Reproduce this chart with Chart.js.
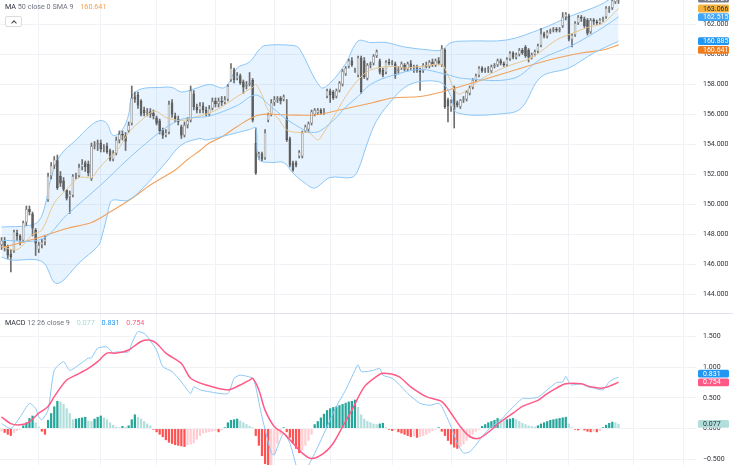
<!DOCTYPE html>
<html>
<head>
<meta charset="utf-8">
<script src="https://cdn.jsdelivr.net/npm/chart.js@4.4.1/dist/chart.umd.min.js"></script>
<style>
  html, body { margin: 0; padding: 0; background: #fff; }
  #wrap { position: relative; width: 733px; height: 465px; overflow: hidden; font-family: Roboto, 'Noto Sans', sans-serif; }
  #priceChart { position: absolute; left: 0; top: 0; }
  #sep { position: absolute; left: 0; top: 313px; width: 733px; height: 1px; background: #e0e3eb; }
  #macdChart { position: absolute; left: 0; top: 314px; }
  .lg { position: absolute; left: 5px; font-size: 7.2px; line-height: 9px; color: #6f7380; white-space: nowrap; }
  .lg .nm { color: #2a2e39; }
  .lg .v { margin-left: 5px; }
  .btn { position: absolute; left: 5px; top: 16px; width: 17px; height: 11px; border: 1px solid #d9dce3; border-radius: 2px; background: #fff; box-sizing: border-box; }
  .btn i { position: absolute; left: 6px; top: 4px; width: 3px; height: 3px; border-left: 1px solid #444; border-top: 1px solid #444; transform: rotate(45deg); }
</style>
</head>
<body>
<div id="wrap">
  <canvas id="priceChart" width="733" height="313"></canvas>
  <div id="sep"></div>
  <canvas id="macdChart" width="733" height="151"></canvas>
  <div class="lg" style="top:2px"><span class="nm">MA</span> 50 close 0 SMA 9 <span class="v" id="maVal" style="color:#f5a04c"></span></div>
  <div class="btn"><i></i></div>
  <div class="lg" style="top:318px"><span class="nm">MACD</span> 12 26 close 9 <span class="v" id="histVal" style="color:#a8dcd6"></span> <span class="v" id="macdVal" style="color:#2196f3"></span> <span class="v" id="sigVal" style="color:#ff5a87"></span></div>
</div>
<script>
/* ---- Data ---- */
const candleOpen = [
  147.3,147.6,147.2,146.7,146.9,148.1,147.9,147.6,148.8,149.7,
  149.4,148.3,147.0,147.3,147.5,150.3,151.9,152.6,152.95,151.9,
  151.6,150.97,150.5,150.6,151.9,151.9,152.5,152.8,152.7,151.7,
  153.9,154.0,154.1,153.7,153.9,153.6,153.0,153.4,154.3,154.7,
  154.6,154.9,155.4,157.2,157.3,156.9,156.3,156.1,156.2,156.1,
  155.8,155.6,155.0,154.6,154.8,156.8,155.9,155.7,155.2,154.6,
  155.3,155.6,157.4,156.5,156.3,156.6,156.3,156.0,156.4,156.9,
  156.7,156.9,156.8,157.0,158.3,159.0,158.4,158.6,158.2,157.9,
  158.0,158.3,154.1,153.2,153.4,153.1,155.6,156.0,156.8,157.0,
  157.1,157.0,155.8,154.4,152.8,152.8,153.2,153.2,154.9,155.0,
  155.4,156.0,156.1,156.3,156.1,157.2,157.6,157.5,157.2,157.6,
  158.0,158.7,159.2,159.6,158.9,158.6,159.8,159.6,158.4,159.3,
  159.4,159.9,159.6,158.97,158.8,159.5,159.4,159.4,158.9,159.1,
  159.3,159.0,159.4,159.1,159.2,158.9,158.9,159.3,159.2,159.5,
  159.3,159.6,159.3,160.3,156.97,156.5,157.85,156.8,156.5,156.97,
  157.0,157.4,157.8,158.3,158.6,159.1,158.9,159.0,158.9,159.2,
  159.3,159.6,159.4,159.3,159.7,160.1,159.8,160.0,160.3,160.5,
  160.3,159.8,160.0,160.2,160.6,161.4,161.2,161.5,161.6,161.7,
  161.6,161.9,162.5,162.6,161.0,161.3,162.1,162.5,162.4,162.3,
  161.5,162.3,162.2,162.1,162.3,162.5,163.0,163.1,163.5,163.6
];
const candleHigh = [
  147.8,147.8,147.3,147.0,148.3,148.3,148.0,148.9,149.9,149.9,
  149.5,148.4,147.5,147.7,147.9,152.1,152.8,153.2,153.3,152.2,
  151.8,151.0,150.9,152.0,152.1,152.7,153.0,152.9,152.9,154.1,
  154.2,154.3,154.3,154.0,154.1,153.7,153.6,154.5,154.9,154.9,
  154.8,155.5,157.9,157.5,157.5,157.0,156.5,156.4,156.4,156.3,
  155.9,155.7,155.1,155.0,156.9,157.0,156.1,155.9,155.3,155.5,
  155.8,157.9,157.6,156.7,156.8,156.8,156.5,156.6,157.1,157.1,
  157.1,157.2,157.2,158.0,159.4,159.1,158.8,158.7,158.3,158.2,
  158.8,158.4,155.1,153.5,153.5,155.0,156.1,157.0,157.2,157.2,
  157.2,157.3,157.0,154.5,152.9,152.9,153.6,154.9,155.3,155.5,
  156.3,156.4,156.4,156.4,156.4,157.7,157.7,157.6,157.7,158.2,
  159.0,159.2,159.7,159.8,159.1,159.9,159.9,159.8,159.4,159.5,
  160.0,160.3,159.7,159.1,159.6,159.7,159.6,159.5,159.2,159.5,
  159.4,159.5,159.6,159.3,159.3,159.1,159.4,159.5,159.6,159.7,
  159.7,159.8,160.6,160.4,157.1,157.0,157.9,156.9,157.0,157.2,
  157.6,157.9,158.4,158.7,159.2,159.2,159.1,159.2,159.3,159.4,
  159.7,159.7,159.5,159.8,160.2,160.2,160.1,160.4,160.4,160.6,
  160.4,160.1,160.3,160.7,161.75,161.5,161.6,161.7,161.8,161.8,
  161.8,162.8,162.8,162.7,161.4,162.2,162.6,162.6,162.5,162.4,
  162.4,162.4,162.3,162.4,162.5,163.2,163.2,163.7,163.9,163.9
];
const candleLow = [
  147.0,146.9,146.4,145.5,146.8,147.6,147.3,147.5,148.6,149.3,
  147.9,146.6,146.8,147.1,147.3,150.2,151.7,152.4,151.0,151.2,
  150.9,150.3,149.4,150.5,151.7,151.8,152.3,152.2,151.9,151.6,
  153.7,153.6,153.5,153.5,153.4,152.9,152.9,153.3,154.1,154.3,
  153.6,154.8,155.3,156.8,156.4,155.9,155.9,155.9,155.8,155.7,
  155.3,154.7,154.4,154.5,154.7,155.8,155.5,155.3,154.4,154.5,
  155.1,155.5,156.3,156.1,156.1,156.1,155.9,155.9,156.3,156.5,
  156.5,156.6,156.7,156.9,158.2,158.1,158.3,158.0,157.4,157.7,
  157.9,155.5,152.0,153.0,152.9,153.0,155.5,155.9,156.6,156.8,
  156.7,156.9,154.2,152.5,152.2,152.5,153.1,153.1,154.8,154.8,
  155.3,155.9,156.0,156.0,156.0,157.1,156.8,157.0,157.1,157.5,
  157.9,158.6,159.1,159.2,158.8,158.5,157.4,158.4,158.3,159.1,
  159.3,159.8,158.7,158.5,158.7,159.3,159.3,158.4,158.7,159.0,
  158.9,158.9,159.0,158.8,158.8,157.6,158.8,159.1,159.1,159.2,
  159.2,159.3,159.2,156.4,155.5,156.2,155.1,156.5,156.4,156.8,
  156.9,157.3,157.7,158.2,158.5,158.8,158.8,158.8,158.8,159.1,
  159.2,159.3,159.2,159.2,159.6,159.7,159.7,159.9,160.0,159.8,
  159.5,159.7,159.9,160.1,160.5,161.1,161.1,161.4,161.5,161.5,
  161.5,161.8,162.3,160.9,160.5,161.2,162.0,162.2,161.8,161.3,
  161.4,162.0,162.0,162.0,162.2,162.4,162.8,163.0,163.4,163.4
];
const candleClose = [
  147.6,147.2,146.6,146.5,148.2,147.9,147.6,148.8,149.7,149.5,
  148.4,147.4,147.3,147.5,147.7,151.9,152.6,153.0,151.1,151.4,
  151.0,150.4,150.7,151.9,152.0,152.5,152.7,152.5,152.1,153.9,
  154.0,154.1,153.7,153.8,153.5,153.0,153.4,154.3,154.7,154.6,
  154.2,155.3,157.1,157.0,156.6,156.0,156.1,156.2,156.0,155.9,
  155.4,154.9,154.6,154.8,156.7,156.0,155.7,155.5,154.6,155.3,
  155.6,157.6,156.5,156.3,156.6,156.3,156.0,156.4,156.9,156.7,
  156.9,156.8,157.0,157.9,159.1,158.3,158.6,158.1,157.8,158.0,
  158.1,155.6,152.1,153.4,153.0,154.8,156.0,156.8,157.0,157.1,
  156.9,157.2,154.3,152.6,152.3,152.6,153.5,154.8,155.2,155.4,
  156.2,156.3,156.3,156.1,156.2,157.6,157.3,157.1,157.6,158.1,
  158.9,159.1,159.6,159.3,159.0,159.8,157.5,158.5,159.3,159.4,
  159.9,160.2,158.8,158.6,159.5,159.4,159.5,158.6,159.0,159.4,
  159.0,159.4,159.1,159.2,158.9,158.8,159.3,159.2,159.5,159.3,
  159.6,159.4,160.4,156.5,156.55,156.8,156.3,156.6,156.97,157.0,
  157.5,157.8,158.3,158.6,159.1,158.9,159.0,159.1,159.2,159.3,
  159.6,159.4,159.3,159.7,160.1,159.8,160.0,160.3,160.1,159.9,
  159.8,160.0,160.2,160.6,161.4,161.2,161.5,161.6,161.7,161.6,
  161.7,162.5,162.7,161.0,161.3,162.1,162.5,162.4,161.9,161.4,
  162.3,162.2,162.1,162.3,162.4,163.1,163.1,163.6,163.7,163.721
];

// indicator lines: [candle index, value]
const bbUpper = [[0,148.5],[9,148.6],[12,148.9],[14,149.9],[16,151.8],[19,153.3],[24,154.3],[29,155.3],[32,155.6],[34,155.4],[36,154.6],[39,155.0],[41,156.0],[42,157.2],[45,157.7],[51,157.8],[55,157.8],[58,157.5],[62,157.7],[67,158.0],[72,157.8],[76,159.1],[80,159.5],[83,160.3],[85,160.6],[94,160.6],[96,160.4],[103,157.8],[106,158.1],[111,159.4],[115,160.9],[119,160.8],[124,160.8],[130,160.5],[138,160.3],[142,160.3],[145,160.8],[151,160.9],[163,160.97],[174,161.7],[184,162.6],[193,163.3],[199,164.1]];
const bbLower = [[0,146.5],[3,146.3],[13,146.2],[17,144.8],[19,144.8],[22,145.4],[25,146.1],[31,147.2],[32,147.6],[34,149.2],[35,150.1],[36,150.3],[41,150.3],[47,151.4],[53,152.8],[58,153.97],[64,154.4],[66,154.3],[80,155.0],[82,155.1],[83,153.0],[87,152.8],[91,152.8],[94,152.1],[98,151.4],[101,151.1],[106,151.8],[113,151.8],[115,152.3],[118,154.1],[121,155.6],[126,156.97],[130,157.8],[135,158.2],[142,158.1],[145,157.2],[147,156.1],[164,156.1],[168,156.5],[174,158.5],[183,159.1],[191,160.1],[199,160.885]];
const bbMid = [[0,147.6],[13,147.7],[21,149.3],[32,151.3],[45,153.8],[57,155.6],[67,155.9],[76,156.6],[82,157.3],[87,156.5],[94,155.4],[101,154.8],[107,155.6],[111,156.5],[115,157.2],[119,158.0],[126,158.6],[135,159.0],[143,158.7],[149,158.4],[165,158.4],[174,159.7],[184,160.6],[194,161.8],[199,162.515]];
const fastMa = [[0,147.2],[5,147.0],[10,148.0],[13,148.3],[17,150.1],[21,151.0],[25,151.8],[29,151.8],[31,152.3],[34,153.0],[38,153.8],[41,154.8],[45,155.6],[48,156.1],[50,156.2],[53,155.8],[58,155.6],[62,155.8],[67,156.1],[71,156.5],[76,157.2],[81,157.8],[82,158.0],[84,157.3],[86,156.3],[89,155.8],[92,154.97],[96,154.8],[99,154.8],[102,154.3],[103,154.5],[107,155.8],[111,157.2],[115,158.3],[119,158.97],[126,159.2],[130,159.1],[135,159.2],[142,159.3],[144,158.6],[147,157.4],[150,157.6],[155,158.4],[163,159.2],[171,159.8],[179,160.97],[184,161.4],[189,161.8],[194,162.1],[199,163.066]];
const ma50 = [[0,147.1],[12,147.8],[21,148.4],[29,148.8],[35,149.5],[42,150.4],[48,151.3],[56,152.3],[60,153.0],[64,153.6],[67,154.1],[71,154.5],[76,155.2],[83,155.97],[92,155.97],[101,155.97],[109,156.3],[120,156.8],[126,157.1],[135,157.2],[142,157.5],[147,157.8],[155,158.3],[163,158.8],[176,159.6],[187,160.1],[194,160.3],[199,160.641]];

const macdLine = [[0,0.08],[3,0.0],[6,0.19],[9,0.41],[11,0.33],[12,0.19],[13,0.14],[15,0.30],[17,0.95],[20,1.09],[22,0.95],[25,1.04],[28,1.15],[29,1.15],[31,1.31],[34,1.33],[36,1.23],[37,1.25],[41,1.25],[42,1.39],[44,1.58],[46,1.55],[47,1.50],[50,1.28],[52,1.01],[55,0.93],[58,0.76],[61,0.57],[62,0.68],[64,0.63],[67,0.60],[73,0.57],[75,0.82],[77,0.87],[81,0.82],[82,0.68],[84,0.19],[87,-0.40],[88,-0.43],[89,-0.30],[91,-0.08],[93,-0.24],[95,-0.60],[96,-0.75],[99,-0.60],[102,-0.30],[105,0.03],[108,0.36],[111,0.63],[114,0.95],[115,1.04],[116,0.93],[118,0.93],[120,0.95],[122,0.98],[123,0.87],[126,0.82],[129,0.68],[131,0.57],[135,0.41],[138,0.38],[141,0.41],[142,0.36],[145,0.03],[147,-0.24],[149,-0.40],[151,-0.38],[153,-0.27],[155,-0.13],[158,0.03],[161,0.14],[164,0.30],[168,0.49],[170,0.49],[173,0.51],[176,0.63],[179,0.75],[181,0.76],[182,0.85],[183,0.76],[184,0.71],[187,0.73],[189,0.68],[191,0.66],[194,0.63],[196,0.76],[198,0.82],[199,0.831]];
const signalLine = [[0,0.19],[3,0.08],[6,0.06],[9,0.11],[12,0.25],[15,0.36],[17,0.52],[21,0.79],[24,0.87],[28,0.98],[31,1.09],[34,1.23],[37,1.23],[41,1.28],[45,1.42],[48,1.44],[50,1.39],[53,1.23],[58,1.06],[61,0.82],[66,0.71],[73,0.63],[77,0.71],[80,0.79],[81,0.82],[83,0.63],[85,0.30],[88,0.03],[91,-0.08],[94,-0.24],[97,-0.40],[100,-0.49],[104,-0.40],[107,-0.24],[110,0.03],[113,0.30],[117,0.68],[121,0.85],[123,0.90],[128,0.85],[132,0.68],[137,0.52],[142,0.44],[145,0.25],[148,0.03],[151,-0.13],[154,-0.16],[158,-0.02],[161,0.11],[165,0.25],[168,0.36],[173,0.46],[176,0.57],[179,0.66],[182,0.73],[187,0.73],[190,0.68],[194,0.66],[197,0.71],[199,0.754]];
const macdHist = [
  -0.05,-0.07,-0.10,-0.12,-0.07,-0.04,-0.02,0.05,0.10,0.17,
  0.21,0.10,0.03,-0.05,-0.10,0.14,0.25,0.36,0.45,0.44,
  0.40,0.33,0.25,0.15,0.16,0.17,0.18,0.19,0.13,0.12,
  0.16,0.19,0.21,0.18,0.15,0.10,0.06,0.03,0.02,0.04,
  0.03,0.05,0.15,0.23,0.19,0.16,0.12,0.08,0.05,-0.02,
  -0.06,-0.10,-0.14,-0.19,-0.23,-0.25,-0.27,-0.28,-0.29,-0.30,
  -0.27,-0.26,-0.24,-0.18,-0.12,-0.08,-0.07,-0.06,-0.05,-0.04,
  -0.06,-0.03,0.02,0.10,0.14,0.15,0.16,0.13,0.10,0.07,
  0.04,0.02,-0.12,-0.28,-0.45,-0.58,-0.66,-0.60,-0.42,-0.25,
  -0.10,0.02,-0.06,-0.15,-0.25,-0.33,-0.40,-0.36,-0.28,-0.20,
  -0.10,0.07,0.12,0.18,0.24,0.30,0.33,0.35,0.36,0.38,
  0.40,0.42,0.44,0.45,0.47,0.35,0.23,0.16,0.12,0.10,
  0.08,0.07,0.08,0.09,0.02,-0.02,-0.04,-0.03,-0.06,-0.08,
  -0.10,-0.12,-0.14,-0.13,-0.15,-0.14,-0.12,-0.10,-0.07,-0.04,
  -0.02,0.02,-0.05,-0.12,-0.20,-0.26,-0.31,-0.33,-0.30,-0.26,
  -0.20,-0.15,-0.10,-0.05,-0.02,0.04,0.07,0.10,0.12,0.14,
  0.17,0.15,0.13,0.15,0.16,0.17,0.15,0.12,0.09,0.07,
  0.05,0.04,0.03,0.05,0.08,0.10,0.12,0.14,0.15,0.16,
  0.17,0.18,0.19,0.08,0.02,-0.02,-0.03,0.01,-0.03,-0.05,
  -0.06,-0.05,-0.06,-0.04,0.02,0.06,0.09,0.11,0.10,0.077
];

const priceTicks = [144, 146, 148, 150, 152, 154, 156, 158, 160, 162];
const macdTicks = [-0.5, 0, 0.5, 1, 1.5];
const gridIdx = [12, 32, 50, 69, 88, 106, 126, 145, 163, 183, 204, 220];   // time grid, candle index

/* ---- Style ---- */
const GRID = '#f0f2f6';
const TXT = '#2f323a';
const BAND = '#8cc6f6';
const X_MAX = 224;

Chart.defaults.font.family = "Roboto, 'Noto Sans', sans-serif";

const last = arr => arr[arr.length - 1];
const lastVal = pts => last(pts)[1];
const isUp = i => candleClose[i] >= candleOpen[i];

/* ---- Value boxes on the right scale ---- */
const valueBoxes = {
  id: 'valueBoxes',
  afterDraw(chart, args, opts) {
    const { ctx, chartArea } = chart;
    const yScale = chart.scales.y;
    const h = 8.6;
    const boxes = opts.items.map(it => ({ ...it, y: yScale.getPixelForValue(it.value) }));
    boxes.sort((a, b) => a.y - b.y);
    if (opts.push === 'down') {
      for (let i = 1; i < boxes.length; i++) boxes[i].y = Math.max(boxes[i].y, boxes[i - 1].y + h);
    } else {
      for (let i = boxes.length - 2; i >= 0; i--) boxes[i].y = Math.min(boxes[i].y, boxes[i + 1].y - h);
    }
    ctx.save();
    ctx.font = "7px Roboto, 'Noto Sans', sans-serif";
    ctx.textBaseline = 'middle';
    ctx.textAlign = 'left';
    boxes.forEach(b => {
      ctx.fillStyle = b.bg;
      ctx.beginPath();
      ctx.roundRect(chartArea.right + 2, b.y - h / 2 + 0.4, 31, h - 0.8, 1.5);
      ctx.fill();
      ctx.fillStyle = b.fg;
      ctx.fillText(b.value.toFixed(3), chartArea.right + 7, b.y + 0.4);
    });
    ctx.restore();
  }
};

/* ---- helpers ---- */
function lineDs(points, color, width, extra) {
  return Object.assign({
    type: 'line',
    data: points.map(([x, y]) => ({ x, y })),
    borderColor: color,
    borderWidth: width,
    pointRadius: 0,
    tension: 0.35,
    fill: false,
    order: 1
  }, extra);
}

function timeAxis() {
  return {
    type: 'linear', min: -0.5, max: X_MAX, offset: false,
    ticks: { display: false },
    grid: { color: GRID, drawTicks: false, offset: false },
    border: { display: false },
    afterBuildTicks: s => { s.ticks = gridIdx.map(v => ({ value: v })); },
    afterFit: s => { s.height = 0; s.paddingLeft = 0; s.paddingRight = 0; }
  };
}

function valueAxis(min, max, ticks, fmt) {
  return {
    position: 'right', min, max,
    grid: { color: GRID, drawTicks: false },
    border: { display: false },
    ticks: { padding: 7, color: TXT, font: { size: 7 }, callback: fmt },
    afterBuildTicks: s => { s.ticks = ticks.map(v => ({ value: v })); },
    afterFit: s => { s.width = 37; s.paddingTop = 0; s.paddingBottom = 0; }
  };
}

const baseOptions = {
  responsive: false,
  animation: false,
  events: [],
  layout: { padding: 0, autoPadding: false },
  plugins: { legend: { display: false }, tooltip: { enabled: false } }
};

/* ---- Price pane ---- */
new Chart(document.getElementById('priceChart'), {
  type: 'bar',
  data: {
    datasets: [
      lineDs(bbUpper, BAND, 1, { fill: 1, backgroundColor: 'rgba(33,150,243,0.11)', order: 6 }),
      lineDs(bbLower, BAND, 1),
      lineDs(bbMid, BAND, 1),
      lineDs(fastMa, '#e9c68f', 1),
      lineDs(ma50, '#f2a25c', 1.1),
      {
        type: 'bar',
        data: candleOpen.map((o, i) => ({ x: i, y: [o, candleClose[i]] })),
        grouped: false,
        categoryPercentage: 1,
        barPercentage: 0.85,
        minBarLength: 1,
        borderSkipped: false,
        borderWidth: 0.7,
        backgroundColor: c => isUp(c.dataIndex) ? '#f4f4f4' : '#5d5d5d',
        borderColor: c => isUp(c.dataIndex) ? '#8a8a8a' : '#4c4c4c',
        order: 2
      },
      {
        type: 'bar',
        data: candleLow.map((l, i) => ({ x: i, y: [l, candleHigh[i]] })),
        grouped: false,
        barThickness: 1,
        backgroundColor: '#6e6e6e',
        order: 3
      }
    ]
  },
  options: Object.assign({}, baseOptions, {
    scales: {
      x: timeAxis(),
      y: valueAxis(142.767, 163.633, priceTicks, v => v.toFixed(3))
    },
    plugins: Object.assign({}, baseOptions.plugins, {
      valueBoxes: {
        push: 'down',
        items: [
          { value: last(candleClose), bg: '#787b86', fg: '#ffffff' },
          { value: lastVal(fastMa), bg: '#f6b23e', fg: '#2a2e39' },
          { value: lastVal(bbMid), bg: '#42a5f5', fg: '#ffffff' },
          { value: lastVal(bbLower), bg: '#2196f3', fg: '#ffffff' },
          { value: lastVal(ma50), bg: '#ef7d1e', fg: '#ffffff' }
        ]
      }
    })
  }),
  plugins: [valueBoxes]
});

/* ---- MACD pane ---- */
const histColor = c => {
  const i = c.dataIndex;
  const v = macdHist[i];
  const p = i > 0 ? macdHist[i - 1] : v;
  if (v >= 0) return v >= p ? '#26a69a' : '#b2dfdb';
  return v < p ? '#ff5252' : '#ffcdd2';
};

new Chart(document.getElementById('macdChart'), {
  type: 'bar',
  data: {
    datasets: [
      lineDs(signalLine, '#ff5a87', 1.5, { tension: 0.3, order: 0 }),
      lineDs(macdLine, '#8cc6f6', 1, { tension: 0.2, order: 1 }),
      {
        type: 'bar',
        data: macdHist.map((v, i) => ({ x: i, y: v })),
        grouped: false,
        categoryPercentage: 1,
        barPercentage: 0.72,
        backgroundColor: histColor,
        order: 2
      }
    ]
  },
  options: Object.assign({}, baseOptions, {
    scales: {
      x: timeAxis(),
      y: valueAxis(-0.595, 1.868, macdTicks, v => (v < 0 ? '\u2212' : '') + Math.abs(v).toFixed(3))
    },
    plugins: Object.assign({}, baseOptions.plugins, {
      valueBoxes: {
        push: 'up',
        items: [
          { value: lastVal(macdLine), bg: '#2196f3', fg: '#ffffff' },
          { value: lastVal(signalLine), bg: '#ff5a87', fg: '#ffffff' },
          { value: last(macdHist), bg: '#b2dfdb', fg: '#2a2e39' }
        ]
      }
    })
  }),
  plugins: [valueBoxes]
});

/* ---- Legend values ---- */
document.getElementById('maVal').textContent = lastVal(ma50).toFixed(3);
document.getElementById('histVal').textContent = last(macdHist).toFixed(3);
document.getElementById('macdVal').textContent = lastVal(macdLine).toFixed(3);
document.getElementById('sigVal').textContent = lastVal(signalLine).toFixed(3);
</script>
</body>
</html>
